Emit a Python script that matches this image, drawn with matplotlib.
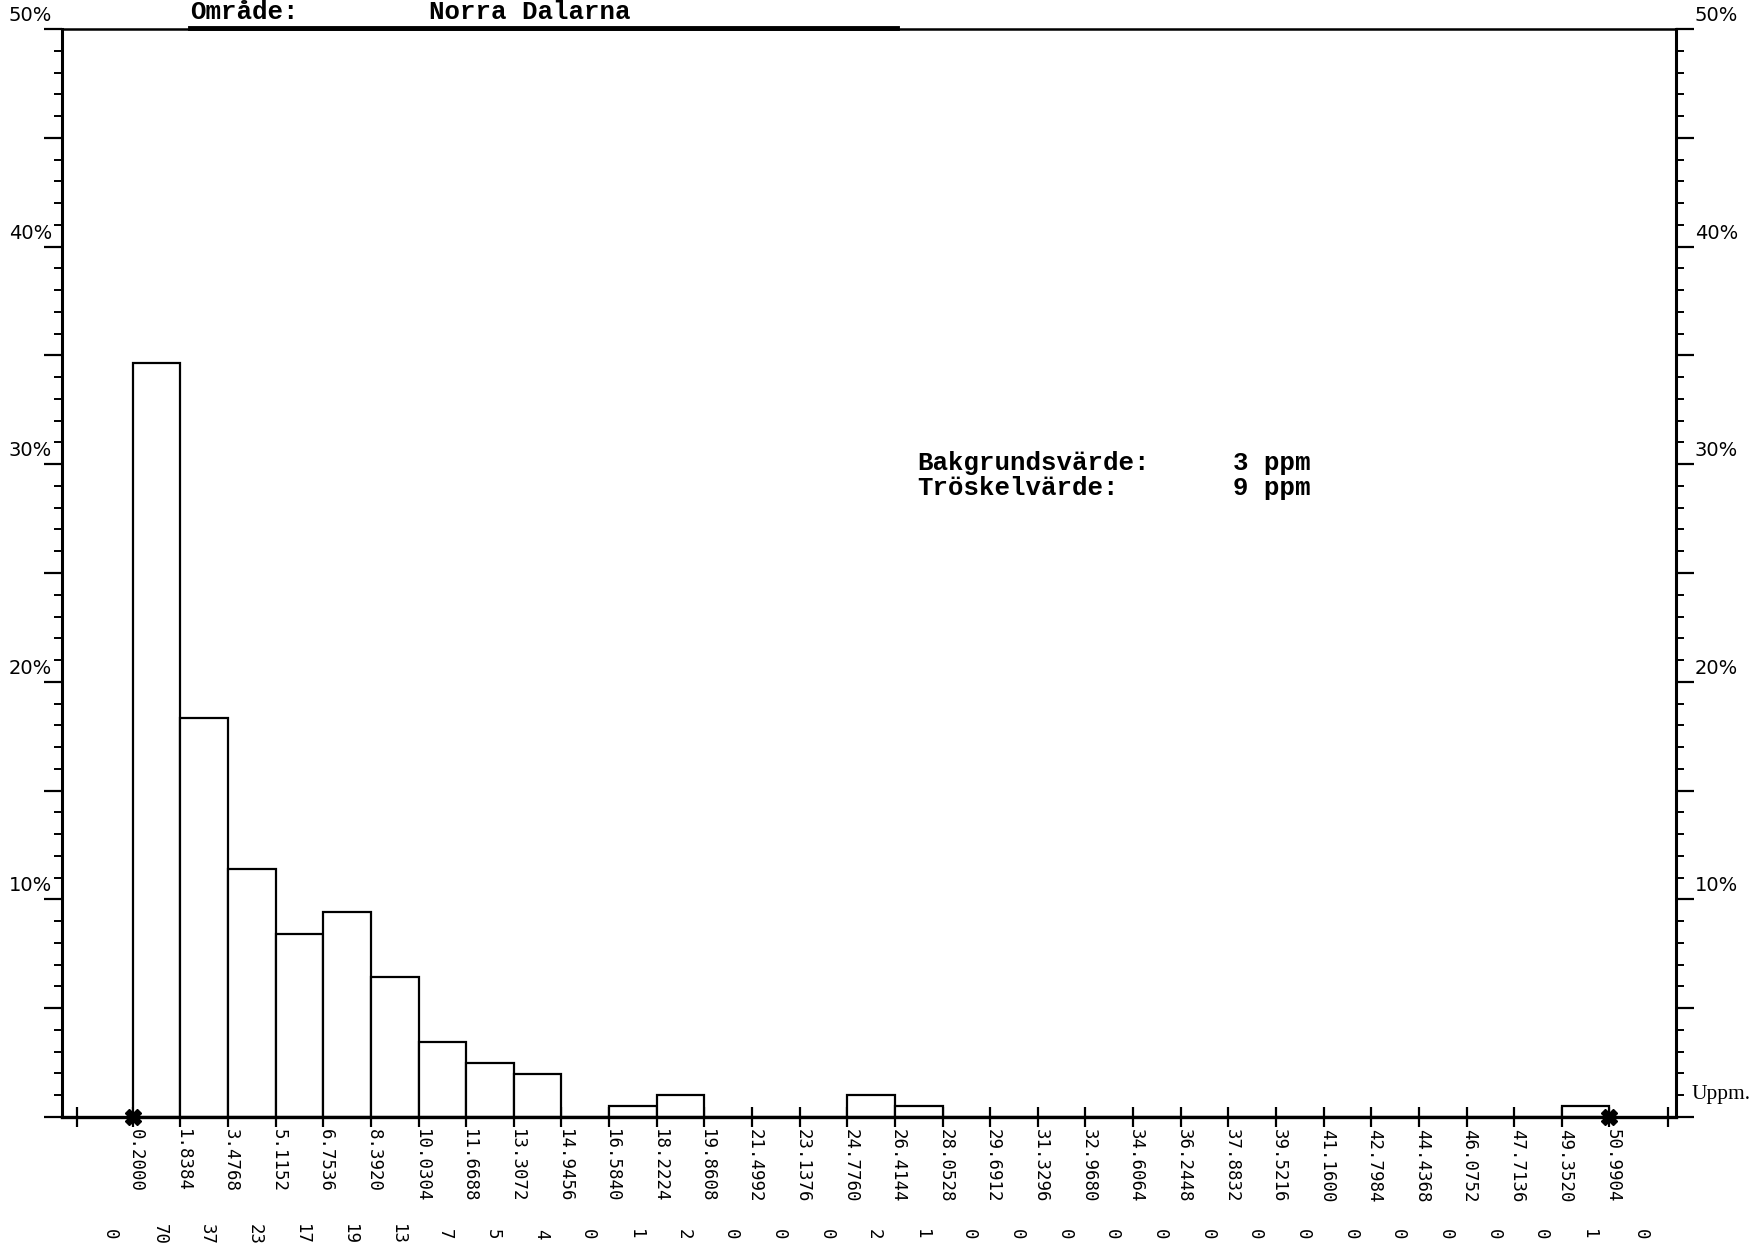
import numpy as np
import matplotlib
matplotlib.use("Agg")
import matplotlib.pyplot as plt
from matplotlib.lines import Line2D
from matplotlib.ticker import MultipleLocator
import matplotlib.transforms as mtransforms

# klassgranser (ppm) och antal prover per klass
START = 0.2
STEG = 1.6384
ANTAL_KLASSER = 31
antal = [70, 37, 23, 17, 19, 13, 7, 5, 4, 0,
         1, 2, 0, 0, 0, 2, 1, 0, 0, 0,
         0, 0, 0, 0, 0, 0, 0, 0, 0, 0,
         1]
under = 0   # prover under forsta gransen
over = 0    # prover over sista gransen

omrade = "Norra Dalarna"
bakgrund = 3
troskel = 9
procent_etiketter = [10, 20, 30, 40, 50]

granser = START + STEG * np.arange(ANTAL_KLASSER + 1)
totalt = sum(antal) + under + over
procent = 100.0 * np.array(antal) / totalt

W, H = 1758, 1246
fig = plt.figure(figsize=(W / 100, H / 100), dpi=100)
fig.patch.set_facecolor("white")

# axlarna i pixlar (fran overkant)
AX_L, AX_R, AX_T, AX_B = 62, 1676, 29, 1117
ax = fig.add_axes([AX_L / W, 1 - AX_B / H, (AX_R - AX_L) / W, (AX_B - AX_T) / H])
ax_h = AX_B - AX_T

ax.set_xlim(granser[0] - 1.484 * STEG, granser[-1] + 1.396 * STEG)
ax.set_ylim(0, 50)

ax.bar(granser[:-1], procent, width=STEG, align="edge",
       facecolor="white", edgecolor="black", linewidth=1.6, zorder=2)

for s in ax.spines.values():
    s.set_linewidth(1.8)
ax.spines["bottom"].set_linewidth(2.4)
ax.spines["left"].set_linewidth(2.2)
ax.spines["right"].set_linewidth(2.2)

# y-axel: streck varje procent, langre var femte
ax.yaxis.set_major_locator(MultipleLocator(5))
ax.yaxis.set_minor_locator(MultipleLocator(1))
ax.tick_params(axis="y", which="major", length=13, width=1.6, direction="out",
               left=True, right=True, labelleft=False, labelright=False)
ax.tick_params(axis="y", which="minor", length=6, width=1.4, direction="out",
               left=True, right=True)

# x-axel: streck vid varje klassgrans plus tva extra utanfor
extra = [granser[0] - 1.17 * STEG, granser[-1] + 1.23 * STEG]
ax.set_xticks(list(granser) + extra)
ax.tick_params(axis="x", length=14, width=1.6, direction="inout",
               labelbottom=False)

ax.plot([granser[0], granser[-1]], [0, 0], linestyle="none", marker="X",
        markersize=11, color="black", clip_on=False, zorder=5)

trans = mtransforms.blended_transform_factory(ax.transData, ax.transAxes)
skift = trans + mtransforms.ScaledTranslation(3 / 100, 0, fig.dpi_scale_trans)
mono = "DejaVu Sans Mono"
for g in granser:
    ax.text(g, -12 / ax_h, "%.4f" % g, rotation=270, ha="center", va="top",
            transform=skift, fontsize=12.5, family=mono)

mitt = list(granser[:-1] + STEG / 2)
pos = [granser[0] - 0.55 * STEG] + mitt + [granser[-1] + 0.6 * STEG]
for x, n in zip(pos, [under] + antal + [over]):
    ax.text(x, -(1234 - AX_B) / ax_h, str(n), rotation=270, ha="center",
            va="center", transform=skift, fontsize=12.5, family=mono)

# procentetiketter pa bada sidor
for p in procent_etiketter:
    yp = AX_B - p * ax_h / 50.0
    fig.text(52 / W, 1 - (yp - 4) / H, "%d%%" % p, ha="right", va="bottom",
             fontsize=14)
    fig.text(1695 / W, 1 - (yp - 4) / H, "%d%%" % p, ha="left", va="bottom",
             fontsize=14)

fig.text(1692 / W, 1 - 1094 / H, "Uppm.", ha="left", va="center",
         fontsize=15.5, family="Liberation Serif")

# rubrik
fig.text(190 / W, 1 - 19 / H, "Område:", ha="left", va="baseline",
         fontsize=18.5, family="Liberation Mono", weight="bold")
fig.text(429 / W, 1 - 19 / H, omrade, ha="left", va="baseline",
         fontsize=18.5, family="Liberation Mono", weight="bold")
fig.add_artist(Line2D([190 / W, 897 / W], [1 - 28 / H, 1 - 28 / H],
                      color="black", linewidth=3.5, transform=fig.transFigure))

fig.text(917 / W, 1 - 463 / H, "Bakgrundsvärde:", ha="left", va="center",
         fontsize=18.5, family="Liberation Mono", weight="bold")
fig.text(917 / W, 1 - 488 / H, "Tröskelvärde:", ha="left", va="center",
         fontsize=18.5, family="Liberation Mono", weight="bold")
fig.text(1233 / W, 1 - 463 / H, "%d ppm" % bakgrund, ha="left", va="center",
         fontsize=18.5, family="Liberation Mono", weight="bold")
fig.text(1233 / W, 1 - 488 / H, "%d ppm" % troskel, ha="left", va="center",
         fontsize=18.5, family="Liberation Mono", weight="bold")

fig.savefig("out.png", dpi=100, facecolor="white")
